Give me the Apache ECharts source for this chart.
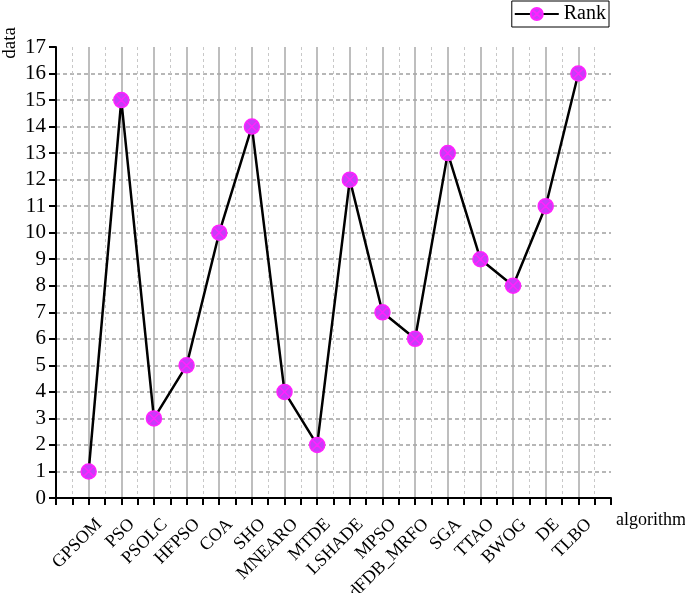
<!DOCTYPE html>
<html>
<head>
<meta charset="utf-8">
<script src="https://cdn.jsdelivr.net/npm/echarts@6/dist/echarts.min.js"></script>
<style>html,body{margin:0;padding:0;background:#fff;}#c{width:685px;height:593px;}</style>
</head>
<body>
<div id="c"></div>
<script>
var categories = ['GPSOM','PSO','PSOLC','HFPSO','COA','SHO','MNEARO','MTDE','LSHADE','MPSO','dFDB_MRFO','SGA','TTAO','BWOG','DE','TLBO'];
var rankValues = [1,15,3,5,10,14,4,2,12,7,6,13,9,8,11,16];
var yTicks = [0,17,1];

var FONT = 'Liberation Serif';
var chart = echarts.init(document.getElementById('c'));
var points = categories.map(function(c,i){ return [i+1, rankValues[i]]; });
var markerPath = 'path://M0,-8A8,8,0,1,1,0,8A8,8,0,1,1,0,-8ZM-5.5,-5.5L5.5,5.5M5.5,-5.5L-5.5,5.5';

chart.setOption({
  animation: false,
  backgroundColor: '#fff',
  grid: { left: 56, right: 74, top: 47, bottom: 95, containLabel: false, outerBoundsMode: 'none' },
  legend: {
    right: 76, top: 1,
    itemWidth: 44, itemHeight: 15, itemGap: 5,
    padding: [3, 3, 3, 2],
    borderColor: '#000', borderWidth: 1,
    textStyle: { fontFamily: FONT, fontSize: 20, color: '#000' },
    data: ['Rank']
  },
  graphic: [{
    type: 'text', left: 1, top: 27, rotation: Math.PI/2,
    style: { text: 'data', fontFamily: FONT, fontSize: 19, fill: '#000' }
  }],
  xAxis: {
    type: 'value', min: 0, max: categories.length + 1, interval: 1,
    name: 'algorithm', nameLocation: 'end', nameGap: 1,
    nameTextStyle: { fontFamily: FONT, fontSize: 18, color: '#000', verticalAlign: 'top', padding: [13, 0, 0, 0] },
    axisLine: { lineStyle: { color: '#000', width: 2 } },
    axisTick: { show: true, length: 7, lineStyle: { color: '#000', width: 2 } },
    minorTick: { show: true, splitNumber: 2, length: 7, lineStyle: { color: '#000', width: 2 } },
    splitLine: { show: true, showMinLine: false, showMaxLine: false, lineStyle: { color: '#a8a8a8', width: 1.5, type: 'solid' } },
    minorSplitLine: { show: true, lineStyle: { color: '#c8c8c8', width: 1, type: [3, 3] } },
    axisLabel: {
      rotate: 45, margin: 13, fontFamily: FONT, fontSize: 18, color: '#000',
      verticalAlign: 'top', padding: [6, 0, 0, 0],
      formatter: function(v){ var i = Math.round(v) - 1; return (i >= 0 && i < categories.length) ? categories[i] : ''; }
    }
  },
  yAxis: {
    type: 'value', min: yTicks[0], max: yTicks[1], interval: yTicks[2],
    axisLine: { show: true, lineStyle: { color: '#000', width: 2 } },
    axisTick: { show: true, length: 7, lineStyle: { color: '#000', width: 2 } },
    splitLine: { show: true, showMinLine: false, showMaxLine: false, lineStyle: { color: '#a0a0a0', width: 1.5, type: [4, 3] } },
    axisLabel: { margin: 10, fontFamily: FONT, fontSize: 21, color: '#000' }
  },
  series: [{
    name: 'Rank', type: 'line', data: points,
    symbol: markerPath, symbolSize: 15,
    lineStyle: { color: '#000', width: 2.5 },
    itemStyle: { color: '#c83cf8', borderColor: '#ff22ff', borderWidth: 1.5 },
    z: 5
  }]
});
</script>
</body>
</html>
